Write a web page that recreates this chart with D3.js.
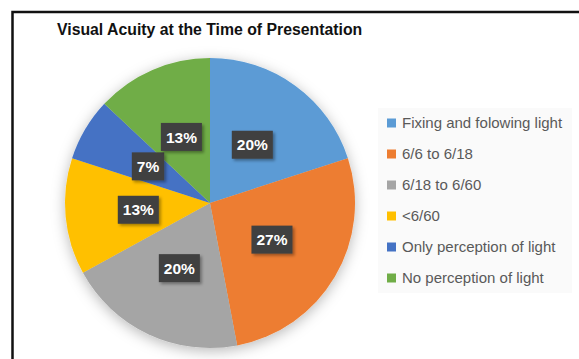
<!DOCTYPE html>
<html>
<head>
<meta charset="utf-8">
<script src="https://cdn.jsdelivr.net/npm/d3@7"></script>
<style>
  body { margin: 0; background: #fff; }
  svg { display: block; }
</style>
</head>
<body>
<div id="chartArea"></div>
<script>
// data
const categories = [
  "Fixing and folowing light",
  "6/6 to 6/18",
  "6/18 to 6/60",
  "<6/60",
  "Only perception of light",
  "No perception of light"
];
const percents = [20, 27, 20, 13, 7, 13];
const colors = ["#5B9BD5", "#ED7D31", "#A5A5A5", "#FFC000", "#4472C4", "#70AD47"];
const title = "Visual Acuity at the Time of Presentation";

const chart = {};
chart.width = 579;
chart.height = 359;
chart.font = "Liberation Sans, Arial, sans-serif";

chart.svg = d3
  .select("#chartArea")
  .append("svg")
  .attr("width", chart.width)
  .attr("height", chart.height);

const defs = chart.svg.append("defs");
defs
  .append("filter")
  .attr("id", "pieShadow")
  .attr("x", "-20%")
  .attr("y", "-20%")
  .attr("width", "140%")
  .attr("height", "140%")
  .append("feDropShadow")
  .attr("dx", 0)
  .attr("dy", 3)
  .attr("stdDeviation", 7)
  .attr("flood-color", "#000")
  .attr("flood-opacity", 0.28);
defs
  .append("filter")
  .attr("id", "boxShadow")
  .attr("x", "-30%")
  .attr("y", "-30%")
  .attr("width", "160%")
  .attr("height", "160%")
  .append("feDropShadow")
  .attr("dx", 2)
  .attr("dy", 2)
  .attr("stdDeviation", 1.5)
  .attr("flood-color", "#000")
  .attr("flood-opacity", 0.35);

// frame (runs past the right and bottom edges)
chart.svg
  .append("rect")
  .attr("x", 12.5)
  .attr("y", 12)
  .attr("width", 700)
  .attr("height", 500)
  .attr("fill", "#fff")
  .attr("stroke", "#111")
  .attr("stroke-width", 2.5);

chart.svg
  .append("text")
  .attr("x", 57)
  .attr("y", 35)
  .attr("font-family", chart.font)
  .attr("font-weight", "bold")
  .attr("font-size", 15.8)
  .attr("fill", "#111")
  .text(title);

// pie
const pie = {};
pie.cx = 210;
pie.cy = 203;
pie.r = 145;
pie.labelR = 72;

pie.layout = d3.pie().sort(null).value((d) => d);
pie.arcs = pie.layout(percents);
pie.arc = d3.arc().innerRadius(0).outerRadius(pie.r);
pie.labelArc = d3.arc().innerRadius(pie.labelR).outerRadius(pie.labelR);

pie.g = chart.svg
  .append("g")
  .attr("transform", "translate(" + pie.cx + "," + pie.cy + ")");

pie.g
  .append("g")
  .attr("filter", "url(#pieShadow)")
  .selectAll("path")
  .data(pie.arcs)
  .join("path")
  .attr("d", pie.arc)
  .attr("fill", (d, i) => colors[i]);

const labels = pie.g
  .selectAll(".slice-label")
  .data(pie.arcs)
  .join("g")
  .attr("class", "slice-label")
  .attr("transform", (d) => "translate(" + pie.labelArc.centroid(d) + ")");

labels
  .append("rect")
  .attr("filter", "url(#boxShadow)")
  .attr("fill", "#404040");

labels
  .append("text")
  .attr("text-anchor", "middle")
  .attr("dy", "0.36em")
  .attr("font-family", chart.font)
  .attr("font-weight", "bold")
  .attr("font-size", 15.5)
  .attr("fill", "#fff")
  .text((d) => d.data + "%");

labels.each(function () {
  const w = d3.select(this).select("text").node().getComputedTextLength();
  d3.select(this)
    .select("rect")
    .attr("x", -w / 2 - 5)
    .attr("y", -14)
    .attr("width", w + 10)
    .attr("height", 28);
});

// legend
const legend = {};
legend.x = 378;
legend.y = 108;
legend.rowH = 31;

chart.svg
  .append("rect")
  .attr("x", legend.x)
  .attr("y", legend.y)
  .attr("width", 194)
  .attr("height", 185)
  .attr("fill", "#fafafa");

const rows = chart.svg
  .append("g")
  .selectAll("g")
  .data(categories)
  .join("g")
  .attr("transform", (d, i) => "translate(" + (legend.x + 9) + "," + (legend.y + 15 + i * legend.rowH) + ")");

rows
  .append("rect")
  .attr("x", 0)
  .attr("y", -4.5)
  .attr("width", 9)
  .attr("height", 9)
  .attr("fill", (d, i) => colors[i]);

rows
  .append("text")
  .attr("x", 15)
  .attr("dy", "0.35em")
  .attr("font-family", chart.font)
  .attr("font-size", 15)
  .attr("fill", "#595959")
  .text((d) => d);
</script>
</body>
</html>
